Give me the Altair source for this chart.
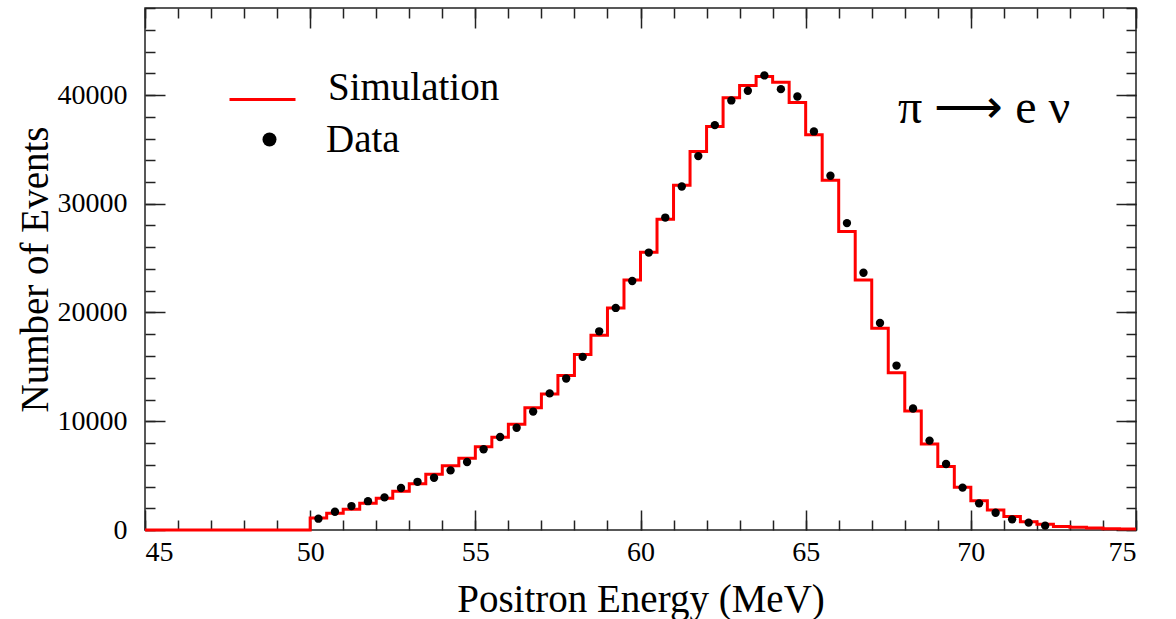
import altair as alt
import pandas as pd

# ---- data ----
x_range = [45.0, 75.0]
y_range = [0, 48000]

# simulation histogram: low edges of the 0.5 MeV bins and their contents
sim_edges = [50.0, 50.5, 51.0, 51.5, 52.0, 52.5, 53.0, 53.5, 54.0, 54.5,
             55.0, 55.5, 56.0, 56.5, 57.0, 57.5, 58.0, 58.5, 59.0, 59.5,
             60.0, 60.5, 61.0, 61.5, 62.0, 62.5, 63.0, 63.5, 64.0, 64.5,
             65.0, 65.5, 66.0, 66.5, 67.0, 67.5, 68.0, 68.5, 69.0, 69.5,
             70.0, 70.5, 71.0, 71.5, 72.0, 72.5, 73.0, 73.5, 74.0, 74.5]
sim_counts = [1100, 1530, 1900, 2450, 2910, 3570, 4250, 5130, 5900, 6590,
              7650, 8530, 9730, 11250, 12500, 14200, 16130, 17900, 20420, 23000,
              25550, 28580, 31710, 34800, 37100, 39740, 40880, 41700, 41170, 39310,
              36340, 32170, 27450, 23000, 18550, 14470, 10950, 7910, 5830, 3930,
              2700, 1840, 1230, 770, 520, 320, 260, 180, 110, 100]

# measured data points at bin centres
data_centers = [50.25, 50.75, 51.25, 51.75, 52.25, 52.75, 53.25, 53.75, 54.25, 54.75,
                55.25, 55.75, 56.25, 56.75, 57.25, 57.75, 58.25, 58.75, 59.25, 59.75,
                60.25, 60.75, 61.25, 61.75, 62.25, 62.75, 63.25, 63.75, 64.25, 64.75,
                65.25, 65.75, 66.25, 66.75, 67.25, 67.75, 68.25, 68.75, 69.25, 69.75,
                70.25, 70.75, 71.25, 71.75, 72.25]
data_counts = [1040, 1680, 2200, 2650, 3000, 3860, 4430, 4800, 5480, 6250,
               7420, 8550, 9400, 10890, 12560, 13930, 15920, 18270, 20420, 22900,
               25510, 28730, 31590, 34380, 37230, 39500, 40390, 41800, 40540, 39860,
               36650, 32570, 28220, 23660, 19040, 15120, 11170, 8220, 6070, 3900,
               2450, 1590, 980, 680, 400]

x_major = [45, 50, 55, 60, 65, 70, 75]
x_minor = [45, 46, 47, 48, 49, 50, 51, 52, 53, 54, 55, 56, 57, 58, 59, 60,
           61, 62, 63, 64, 65, 66, 67, 68, 69, 70, 71, 72, 73, 74, 75]
y_major = [0, 10000, 20000, 30000, 40000]
y_minor = [0, 2000, 4000, 6000, 8000, 10000, 12000, 14000, 16000, 18000, 20000,
           22000, 24000, 26000, 28000, 30000, 32000, 34000, 36000, 38000, 40000,
           42000, 44000, 46000, 48000]

note_x = [70.4]
note_y = [37450]
note_text = ["π ⟶ e ν"]

series_names = ["Simulation", "Data"]

# ---- tables ----
line_df = pd.DataFrame({
    "E": [x_range[0]] + sim_edges + [x_range[1]],
    "N": [0] + sim_counts + [sim_counts[-1]],
    "series": series_names[0],
})
pts_df = pd.DataFrame({"E": data_centers, "N": data_counts, "series": series_names[1]})
note_df = pd.DataFrame({"E": note_x, "N": note_y, "t": note_text})

FONT = "Liberation Serif"
TICK = "#222222"
xs = alt.Scale(domain=x_range, nice=False, zero=False)
ys = alt.Scale(domain=y_range, nice=False, zero=False)


def tick_axis(orient, values, size):
    return alt.Axis(orient=orient, values=values, ticks=True, tickSize=size,
                    offset=-size, tickColor=TICK, tickWidth=1.5, labels=False,
                    domain=False, grid=False, title="")


x_label_axis = alt.Axis(orient="bottom", values=x_major, ticks=False, domain=False,
                        grid=False, labels=True, labelFont=FONT, labelFontSize=28,
                        labelColor="black", labelPadding=8, format="d",
                        title="Positron Energy (MeV)", titleFont=FONT, titleFontSize=39,
                        titleFontWeight="normal", titleColor="black",
                        titleBaseline="alphabetic", titleY=81)
y_label_axis = alt.Axis(orient="left", values=y_major, ticks=False, domain=False,
                        grid=False, labels=True, labelFont=FONT, labelFontSize=28,
                        labelColor="black", labelPadding=18, format="d",
                        title="Number of Events", titleFont=FONT, titleFontSize=39,
                        titleFontWeight="normal", titleColor="black",
                        titleBaseline="alphabetic", titleX=-98)

line = alt.Chart(line_df).mark_line(interpolate="step-after", strokeWidth=3).encode(
    x=alt.X("E:Q", scale=xs, axis=x_label_axis),
    y=alt.Y("N:Q", scale=ys, axis=y_label_axis),
    color=alt.Color("series:N", scale=alt.Scale(domain=[series_names[0]], range=["#ff0000"]),
                    legend=alt.Legend(orient="none", legendX=83, legendY=57, title=None,
                                      symbolType="stroke", symbolSize=4356,
                                      symbolStrokeWidth=3, labelFont=FONT,
                                      labelFontSize=39, labelColor="black",
                                      labelBaseline="alphabetic",
                                      labelOffset=31, labelLimit=400, padding=0)),
)

pts = alt.Chart(pts_df).mark_circle(size=70, opacity=1).encode(
    x=alt.X("E:Q", scale=xs, axis=tick_axis("bottom", x_major, 20)),
    y=alt.Y("N:Q", scale=ys, axis=tick_axis("left", y_major, 20)),
    fill=alt.Fill("series:N", scale=alt.Scale(domain=[series_names[1]], range=["black"]),
                  legend=alt.Legend(orient="none", legendX=105, legendY=112, title=None,
                                    symbolType="circle", symbolSize=196,
                                    symbolStrokeWidth=0, labelFont=FONT,
                                    labelFontSize=39, labelColor="black",
                                    labelOffset=37, labelLimit=400, padding=0)),
)


def ghost(xorient, xvals, yorient, yvals, size):
    return alt.Chart(pts_df).mark_point(opacity=0).encode(
        x=alt.X("E:Q", scale=xs, axis=tick_axis(xorient, xvals, size)),
        y=alt.Y("N:Q", scale=ys, axis=tick_axis(yorient, yvals, size)),
    )


g1 = ghost("bottom", x_minor, "left", y_minor, 10)
g2 = ghost("top", x_major, "right", y_major, 20)
g3 = ghost("top", x_minor, "right", y_minor, 10)

note = alt.Chart(note_df).mark_text(font=FONT, fontSize=48, align="center",
                                    baseline="alphabetic", color="black").encode(
    x=alt.X("E:Q", scale=xs, axis=None),
    y=alt.Y("N:Q", scale=ys, axis=None),
    text="t:N",
)

chart = alt.layer(line, pts, g1, g2, g3, note).resolve_axis(
    x="independent", y="independent"
).resolve_scale(color="independent", fill="independent").properties(
    width=991, height=522,
    padding={"left": 145, "top": 8, "right": 40, "bottom": 89},
    autosize=alt.AutoSizeParams(type="none"),
    background="white",
).configure_view(stroke=TICK, strokeWidth=1.5)

chart.save("out.html", embed_options={"renderer": "svg", "actions": False})
